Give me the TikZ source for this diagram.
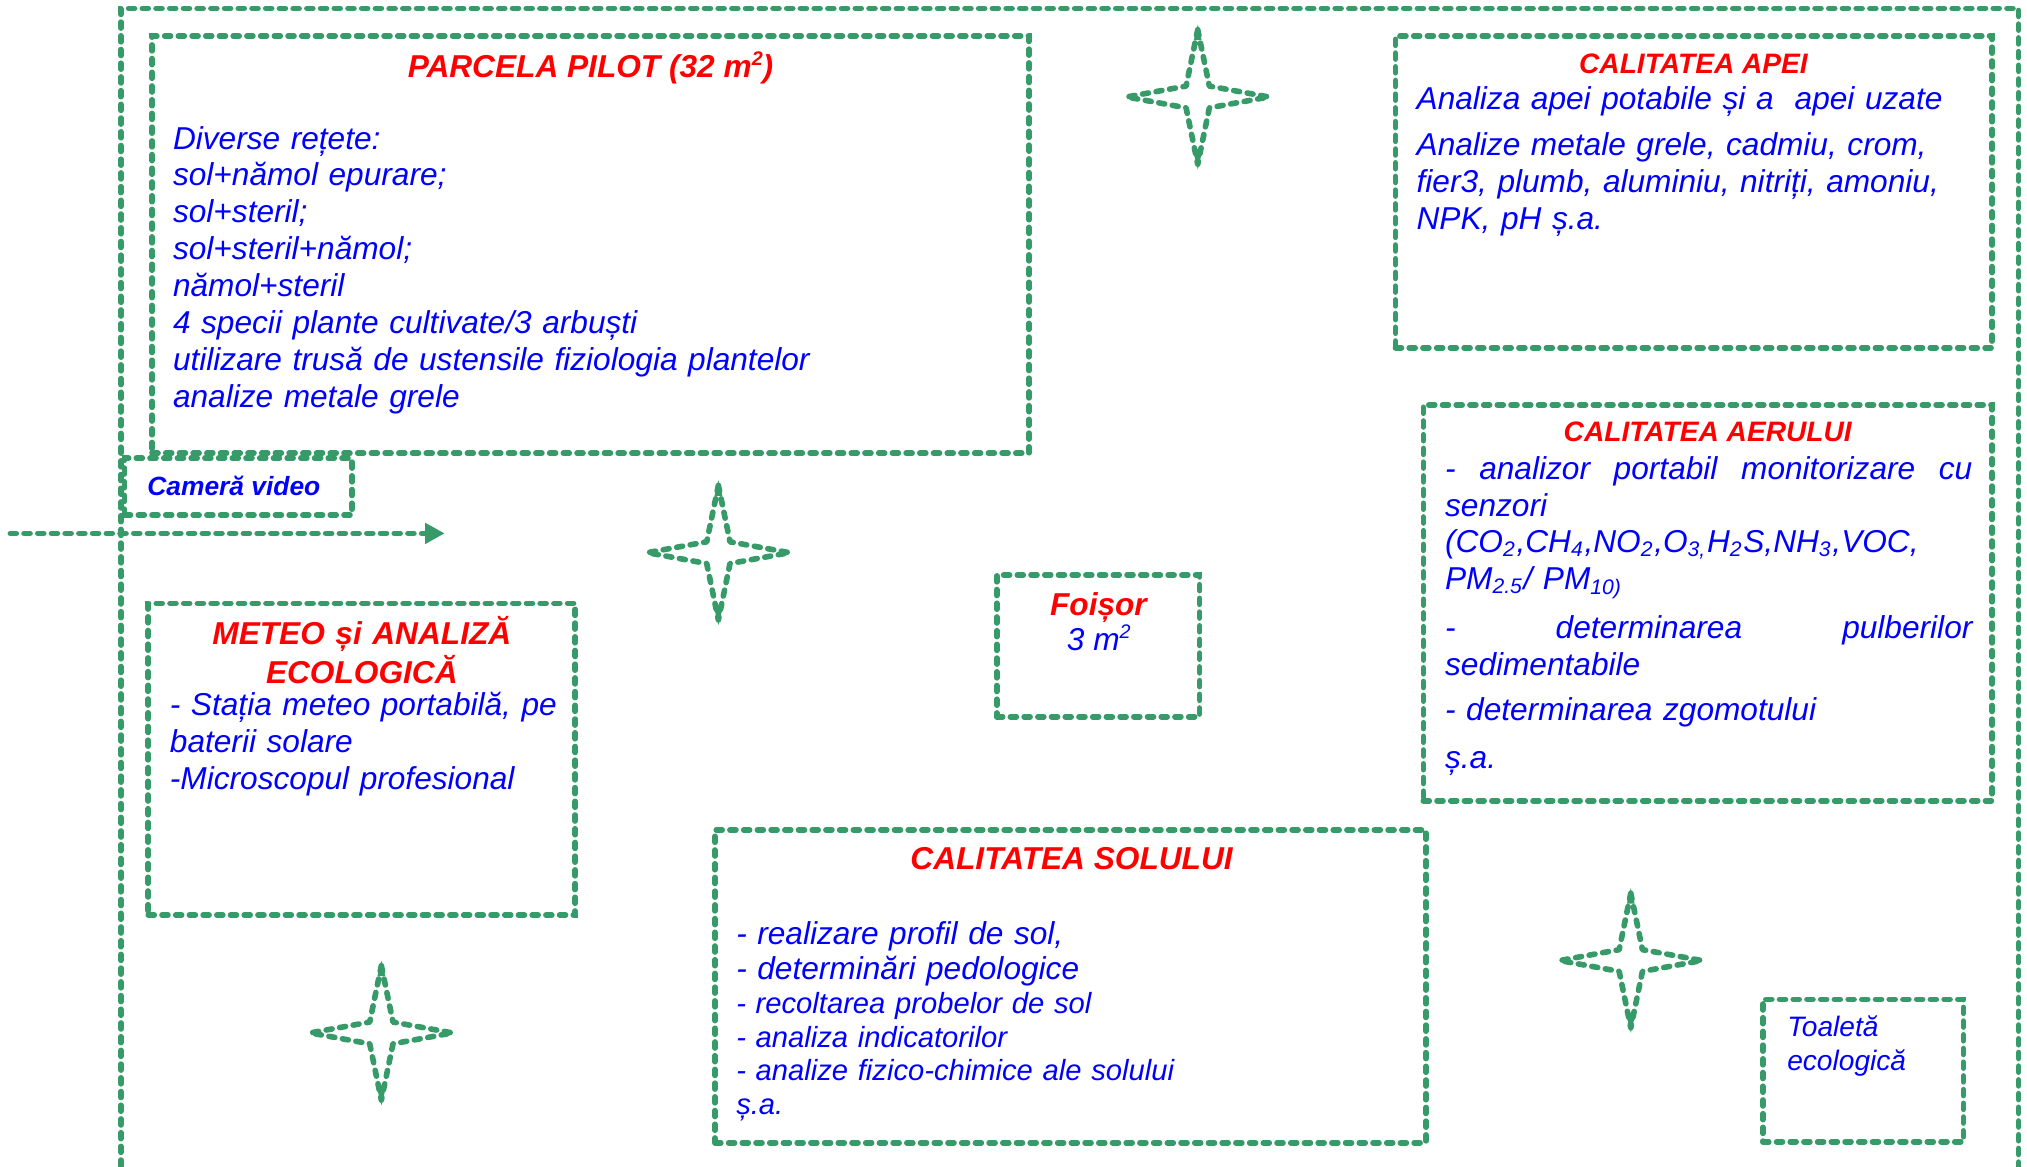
\documentclass[tikz,border=0pt]{standalone}
\usepackage{fontspec}
\setmainfont{Liberation Sans}
\usetikzlibrary{arrows.meta,fit}
\definecolor{gr}{RGB}{54,155,104}
\definecolor{tred}{RGB}{255,0,0}
\definecolor{tblue}{RGB}{0,0,255}
\newcommand\msq{m\raisebox{0.38em}{\fontsize{5.6}{6}\selectfont 2}}
\tikzset{
  gline/.style={draw=gr, line width=1.6pt, dash pattern=on 1.7pt off 2.2pt, line cap=round},
  gbox/.style={gline, rectangle, inner sep=0pt},
  starline/.style={gline, line join=round},
  ttl/.style={text=tred, font=\fontsize{9}{10.5}\selectfont\bfseries\itshape, inner sep=0pt, anchor=base},
  ttlsmall/.style={ttl, font=\fontsize{8}{9.5}\selectfont\bfseries\itshape},
  body/.style={text=tblue, font=\fontsize{9}{10.5}\selectfont\itshape, inner sep=0pt, anchor=base west, align=left},
  gstar/.pic={
    \draw[starline] (0,-52) -- (9,-8.4) -- (55,0) -- (9,8.4) -- (0,52) -- (-9,8.4) -- (-55,0) -- (-9,-8.4) -- cycle;
    \fill[gr] (0,-56) -- (3,-44) -- (-3,-44) -- cycle;
    \fill[gr] (0,56) -- (3,44) -- (-3,44) -- cycle;
  }
}
\begin{document}
\begin{tikzpicture}[x=0.012927cm,y=-0.012927cm]
\useasboundingbox (0,0) rectangle (1568,902);
% outer frame
\coordinate (oBL) at (93.5,902);
\coordinate (oTL) at (93.5,6.5);
\coordinate (oTR) at (1561.5,6.5);
\coordinate (oBR) at (1561.5,902);
\draw[gline] (oBL) -- (oTL) -- (oTR) -- (oBR);
% boxes
\node[gbox, fit={(117.6,27.9) (796,350.6)}] (parcela) {};
\node[gbox, fit={(96.4,354.5) (272.2,398.4)}] (camera) {};
\node[gbox, fit={(114.7,466.7) (445,707.8)}] (meteo) {};
\node[gbox, fit={(771,444.8) (928,554.4)}] (foisor) {};
\node[gbox, fit={(1079.5,27.9) (1541,269)}] (apa) {};
\node[gbox, fit={(1101,313.3) (1541,619.4)}] (aer) {};
\node[gbox, fit={(553,642) (1103,884)}] (sol) {};
\node[gbox, fit={(1363.6,773) (1518.8,883.2)}] (toaleta) {};
% stars
\pic (star1) at (555.7,427.5) {gstar};
\pic (star2) at (926.5,75) {gstar};
\pic (star3) at (295,799) {gstar};
\pic (star4) at (1261.5,743) {gstar};
% arrow
\coordinate (arrS) at (8,412.6);
\coordinate (arrE) at (344,412.6);
\draw[gline, -{Triangle[length=5.6pt,width=5.7pt,fill=gr]}] (arrS) -- (arrE);
% texts: parcela
\node[ttl] (tparcela) at (456.8,60.3) {PARCELA PILOT (32 \msq)};
\node[body, text width=235pt] (bparcela) at (133.3,115.3) {Diverse rețete:\\ sol+nămol epurare;\\ sol+steril;\\ sol+steril+nămol;\\ nămol+steril\\ 4 specii plante cultivate/3 arbuști\\ utilizare trusă de ustensile fiziologia plantelor\\ analize metale grele};
% camera
\node[text=tblue, font=\fontsize{7.5}{9}\selectfont\bfseries\itshape, inner sep=0pt, anchor=base west] (tcam) at (113.5,383) {Cameră video};
% apa
\node[ttlsmall] (tapa) at (1310,56.8) {CALITATEA APEI};
\node[body, text width=162pt] (bapa1) at (1095.3,84.4) {Analiza apei potabile și a\ \ apei uzate};
\node[body, text width=162pt] (bapa2) at (1095.3,120.5) {Analize metale grele, cadmiu, crom,\\ fier3, plumb, aluminiu, nitriți, amoniu,\\ NPK, pH ș.a.};
% aer
\node[ttlsmall] (taer) at (1321,341.8) {CALITATEA AERULUI};
\node[body, text width=155pt] (baer) at (1117.3,370.6) {\makebox[150pt][s]{-\hfill analizor\hfill portabil\hfill monitorizare\hfill cu}\\ senzori\\ (CO\textsubscript{2},CH\textsubscript{4},NO\textsubscript{2},O\textsubscript{3,}H\textsubscript{2}S,NH\textsubscript{3},VOC,\\ PM\textsubscript{2.5}/ PM\textsubscript{10)}\\[3.4pt] \makebox[150pt][s]{-\hfill determinarea\hfill pulberilor}\\ sedimentabile\\[2.2pt] - determinarea zgomotului\\[3.2pt] ș.a.};
% meteo
\node[ttl, text width=118pt, align=center, font=\fontsize{9}{9.9}\selectfont\bfseries\itshape] (tmeteo) at (279.9,498.7) {METEO și ANALIZĂ\\ ECOLOGICĂ};
\node[body, text width=116pt] (bmeteo) at (130.9,553.6) {- Stația meteo portabilă, pe\\ baterii solare\\ -Microscopul profesional};
% foisor
\node[ttl] (tfoisor) at (849.7,476) {Foișor};
\node[text=tblue, font=\fontsize{9}{10.5}\selectfont\itshape, inner sep=0pt, anchor=base] (tm2) at (850,503.5) {3 \msq};
% sol
\node[ttl] (tsol) at (828.9,672.7) {CALITATEA SOLULUI};
\node[body, text width=190pt, font=\fontsize{9}{9.97}\selectfont\itshape] (bsol1) at (569,730.3) {- realizare profil de sol,\\ - determinări pedologice};
\node[body, text width=190pt, font=\fontsize{8.3}{9.56}\selectfont\itshape] (bsol2) at (569,784) {- recoltarea probelor de sol\\ - analiza indicatorilor\\ - analize fizico-chimice ale solului\\ ș.a.};
% toaleta
\node[body, text width=55pt, font=\fontsize{8}{9.9}\selectfont\itshape] (ttoal) at (1382,801.5) {Toaletă\\ ecologică};
\end{tikzpicture}
\end{document}
